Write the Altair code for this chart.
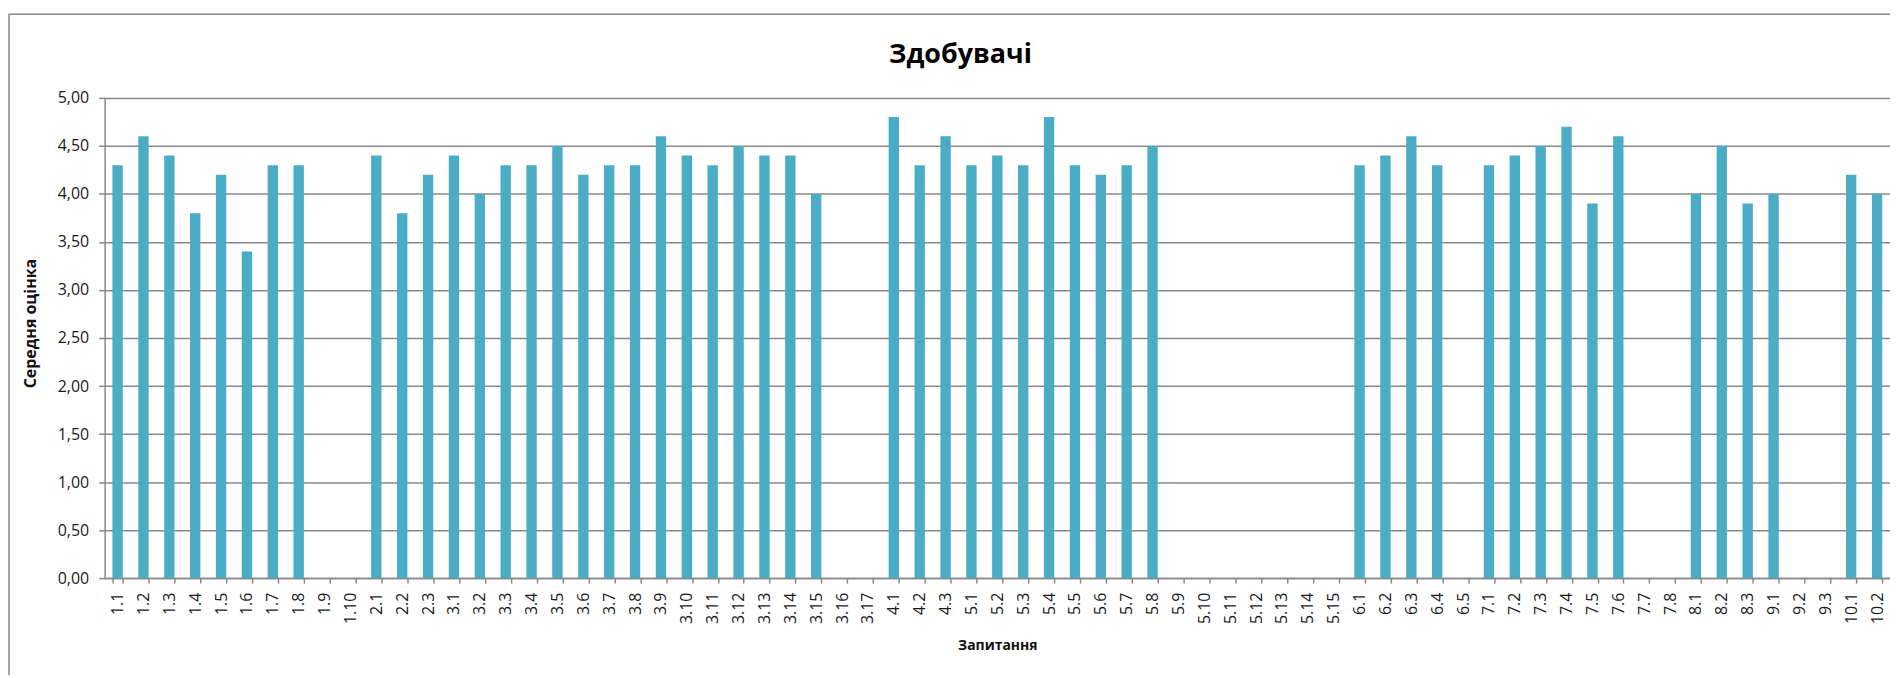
import altair as alt
import pandas as pd

questions = [
    "1.1", "1.2", "1.3", "1.4", "1.5", "1.6", "1.7", "1.8", "1.9", "1.10",
    "2.1", "2.2", "2.3",
    "3.1", "3.2", "3.3", "3.4", "3.5", "3.6", "3.7", "3.8", "3.9", "3.10",
    "3.11", "3.12", "3.13", "3.14", "3.15", "3.16", "3.17",
    "4.1", "4.2", "4.3",
    "5.1", "5.2", "5.3", "5.4", "5.5", "5.6", "5.7", "5.8", "5.9", "5.10",
    "5.11", "5.12", "5.13", "5.14", "5.15",
    "6.1", "6.2", "6.3", "6.4", "6.5",
    "7.1", "7.2", "7.3", "7.4", "7.5", "7.6", "7.7", "7.8",
    "8.1", "8.2", "8.3",
    "9.1", "9.2", "9.3",
    "10.1", "10.2",
]

scores = [
    4.3, 4.6, 4.4, 3.8, 4.2, 3.4, 4.3, 4.3, None, None,
    4.4, 3.8, 4.2,
    4.4, 4.0, 4.3, 4.3, 4.5, 4.2, 4.3, 4.3, 4.6, 4.4,
    4.3, 4.5, 4.4, 4.4, 4.0, None, None,
    4.8, 4.3, 4.6,
    4.3, 4.4, 4.3, 4.8, 4.3, 4.2, 4.3, 4.5, None, None,
    None, None, None, None, None,
    4.3, 4.4, 4.6, 4.3, None,
    4.3, 4.4, 4.5, 4.7, 3.9, 4.6, None, None,
    4.0, 4.5, 3.9,
    4.0, None, None,
    4.2, 4.0,
]

y_ticks = [0, 0.5, 1.0, 1.5, 2.0, 2.5, 3.0, 3.5, 4.0, 4.5, 5.0]

title_text = "Здобувачі"
x_title = "Запитання"
y_title = "Середня оцінка"

df = pd.DataFrame({"q": questions, "score": scores})

FONT = "Open Sans"
GRID = "#888888"
W = 1792
H = 482

bars = alt.Chart(df).mark_bar(color="#4BACC6").encode(
    x=alt.X(
        "q:N",
        sort=questions,
        scale=alt.Scale(domain=questions, paddingInner=0.6, paddingOuter=0.3),
        axis=alt.Axis(
            title=x_title,
            labelAngle=-90,
            labelFont=FONT,
            labelFontSize=16,
            labelColor="#1a1a1a",
            labelPadding=9,
            tickBand="extent",
            tickSize=5,
            tickColor=GRID,
            tickWidth=1.5,
            domainColor=GRID,
            domainWidth=1.5,
            titleFont=FONT,
            titleFontSize=14,
            titleFontWeight="bold",
            titleColor="#111111",
            titleY=68,
            titleBaseline="middle",
        ),
    ),
    y=alt.Y(
        "score:Q",
        scale=alt.Scale(domain=[0, 5], nice=False),
        axis=alt.Axis(
            title=y_title,
            values=y_ticks,
            labelExpr="replace(format(datum.value, '.2f'), '.', ',')",
            labelFont=FONT,
            labelFontSize=16,
            labelColor="#1a1a1a",
            labelPadding=10,
            tickSize=6,
            tickColor=GRID,
            tickWidth=1.5,
            domainColor=GRID,
            domainWidth=1.5,
            gridColor=GRID,
            gridWidth=1.5,
            gridOpacity=1,
            titleFont=FONT,
            titleFontSize=16,
            titleFontWeight="bold",
            titleColor="#111111",
            titleX=-74,
            titleY=226,
            titleAngle=-90,
            titleAlign="center",
            titleBaseline="middle",
        ),
    ),
)

frame = alt.Chart(alt.Data(values=[{}])).mark_rect(
    filled=False, stroke=GRID, strokeWidth=1.5, clip=False
).encode(
    x=alt.value(-96),
    y=alt.value(-84),
    x2=alt.value(W + 200),
    y2=alt.value(H + 300),
)

title_mark = alt.Chart(alt.Data(values=[{}])).mark_text(
    font=FONT, fontSize=27, fontWeight="bold", color="#000000",
    align="center", baseline="alphabetic", clip=False,
).encode(
    x=alt.value(859),
    y=alt.value(-35),
    text=alt.value(title_text),
)

chart = (
    alt.layer(frame, bars, title_mark)
    .properties(
        width=W,
        height=H,
        autosize=alt.AutoSizeParams(type="none"),
        padding={"left": 97, "top": 89, "right": 0, "bottom": 96},
        background="white",
    )
    .configure_view(strokeWidth=0)
)

chart.save("out.html", embed_options={"renderer": "svg", "actions": False})
